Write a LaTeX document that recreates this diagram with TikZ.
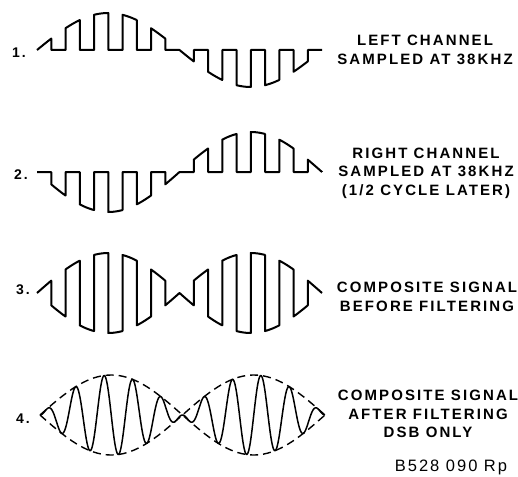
\documentclass[tikz,border=0pt]{standalone}
\usepackage{fontspec}
\newfontfamily\lblfont[LetterSpace=14]{Liberation Sans}
\newfontfamily\reffont[LetterSpace=12]{Liberation Sans}
\usetikzlibrary{positioning}

\begin{document}
\begin{tikzpicture}[x=1pt,y=-1pt,line join=round,
  wave/.style={line width=2pt},
  filt/.style={line width=1.5pt},
  env/.style={line width=1.4pt,dash pattern=on 8pt off 5pt},
  lbl/.style={font=\lblfont\bfseries\fontsize{15}{18.5}\selectfont,align=center,inner sep=0pt},
  num/.style={font=\lblfont\bfseries\fontsize{14}{16}\selectfont,inner sep=0pt}]
\useasboundingbox (0,0) rectangle (518,476);
% 1. left channel, sampled
\draw[wave] (37,50) \foreach \k in {0,...,9}{
  -- ({37+28.5*\k},50)
  -- plot[domain={37+28.5*\k}:{51.25+28.5*\k},samples=8] (\x,{50-37*sin(1.26316*(\x-37))})
  -- ({51.25+28.5*\k},50) } -- (322,50);
% 2. right channel, half a cycle later
\draw[wave] (37,172) \foreach \k in {0,...,9}{
  -- ({51.25+28.5*\k},172)
  -- plot[domain={51.25+28.5*\k}:{65.5+28.5*\k},samples=8] (\x,{172+40*sin(1.26316*(\x-37))})
  -- ({65.5+28.5*\k},172) };
% 3. composite, before filtering
\draw[wave] (37,293) \foreach \k in {0,...,9}{
  -- plot[domain={37+28.5*\k}:{51.25+28.5*\k},samples=8] (\x,{293-40*sin(1.26316*(\x-37))})
  -- plot[domain={51.25+28.5*\k}:{65.5+28.5*\k},samples=8] (\x,{293+40*sin(1.26316*(\x-37))}) };
% 4. composite, after filtering (DSB)
\draw[env] plot[domain=40:325,samples=80] (\x,{415-40*sin(1.26316*(\x-40))});
\draw[env] plot[domain=40:325,samples=80] (\x,{415+40*sin(1.26316*(\x-40))});
\draw[filt] plot[domain=40:325,samples=400,smooth] (\x,{415-40*sin(1.26316*(\x-40))*sin(12.6316*(\x-40))});

\node[num] (n1) at (19,53) {1.};
\node[num] (n2) at (21,175) {2.};
\node[num] (n3) at (23,290) {3.};
\node[num] (n4) at (23,419) {4.};
\node[lbl] (l1) at (425,50) {LEFT CHANNEL\\SAMPLED AT 38KHZ};
\node[lbl] (l2) at (426,173) {RIGHT CHANNEL\\SAMPLED AT 38KHZ\\(1/2 CYCLE LATER)};
\node[lbl] (l3) at (427,297) {COMPOSITE SIGNAL\\BEFORE FILTERING};
\node[lbl] (l4) at (428,414) {COMPOSITE SIGNAL\\AFTER FILTERING\\DSB ONLY};
\node[font=\reffont\fontsize{16.5}{16.5}\selectfont,inner sep=0pt] (ref) at (451,467) {B528 090 Rp};
\end{tikzpicture}
\end{document}
